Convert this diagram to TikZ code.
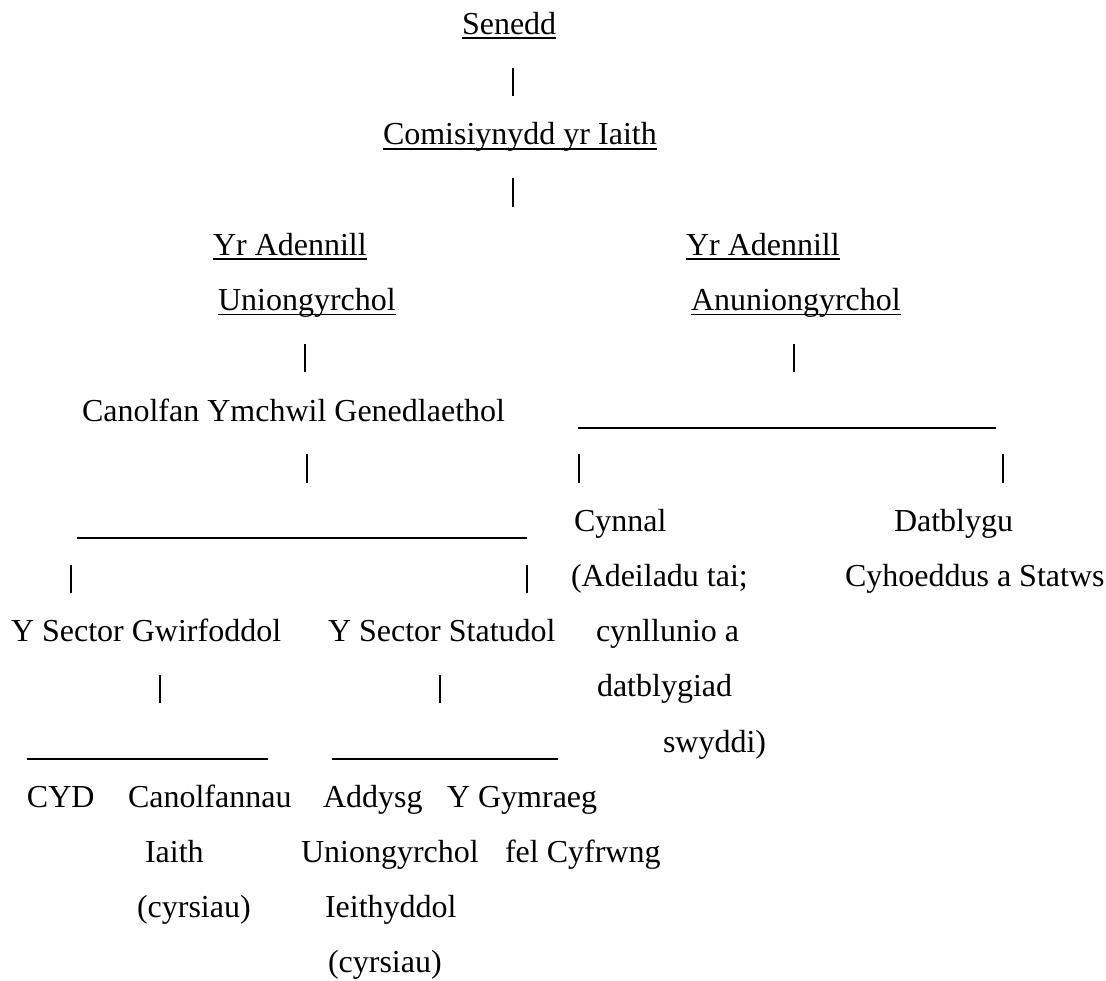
\documentclass[tikz,border=0pt]{standalone}
\usepackage{fontspec}
\setmainfont{Liberation Serif}
\begin{document}
\begin{tikzpicture}[x=0.375pt,y=-0.375pt,
  txt/.style={inner sep=0pt,outer sep=0pt,anchor=base west,font=\fontsize{12}{14}\selectfont},
  bar/.style={line width=0.45pt},
  rule/.style={line width=0.7pt},
  ulline/.style={line width=0.7pt}]
\useasboundingbox (0,0) rectangle (1106,981);
% text nodes
\node[txt] (sen) at (462,34.3) {Senedd};
\node[txt] (com) at (383,144.6) {Comisiynydd yr Iaith};
\node[txt] (yrl) at (213,255) {Yr Adennill};
\node[txt] (yrr) at (686,255) {Yr Adennill};
\node[txt] (unl) at (218,310.5) {Uniongyrchol};
\node[txt] (anr) at (691,310.5) {Anuniongyrchol};
\node[txt] (can) at (82,421.5) {Canolfan Ymchwil Genedlaethol};
\node[txt] (cyn) at (574,531.5) {Cynnal};
\node[txt] (dat) at (894,531.5) {Datblygu};
\node[txt] (ade) at (571,586.5) {(Adeiladu tai;};
\node[txt] (cyh) at (845,586.5) {Cyhoeddus a Statws};
\node[txt] (gwi) at (11,641.5) {Y Sector Gwirfoddol};
\node[txt] (sta) at (328,641.5) {Y Sector Statudol};
\node[txt] (cyl) at (596,641.5) {cynllunio a};
\node[txt] (dty) at (597,696.8) {datblygiad};
\node[txt] (swy) at (663,752) {swyddi)};
\node[txt] (cyd) at (27,807) {CYD};
\node[txt] (cnf) at (128,807) {Canolfannau};
\node[txt] (add) at (323,807) {Addysg};
\node[txt] (gym) at (447,807) {Y Gymraeg};
\node[txt] (iai) at (145,862.5) {Iaith};
\node[txt] (uni) at (301,862.5) {Uniongyrchol};
\node[txt] (fel) at (505,862.5) {fel Cyfrwng};
\node[txt] (cy1) at (137,917.5) {(cyrsiau)};
\node[txt] (iei) at (325,917.5) {Ieithyddol};
\node[txt] (cy2) at (328,972.5) {(cyrsiau)};
% underlines of headings
\foreach \n in {sen,com,yrl,yrr,unl,anr}
  \draw[ulline] ([yshift=-1.5pt]\n.base west) -- ([yshift=-1.5pt]\n.base east);
% vertical bars
\foreach \nm/\x/\b in {p1/513/89.2, p2/513/199.6, p3/305/365.2, p4/794/365.2,
    p5/307/475.6, p6/579/475.6, p7/1003/475.6, p8/71/586, p9/527/586,
    p10/160/696.4, p11/440/696.4} {
  \coordinate (\nm t) at (\x,\b-21.5);
  \coordinate (\nm b) at (\x,\b+7);
  \draw[bar] (\nm t) -- (\nm b);
}
% horizontal rules
\foreach \nm/\xa/\xb/\y in {h1/578/996/428, h2/77/527/538, h3/27/268/758.6, h4/332/558/758.6} {
  \coordinate (\nm l) at (\xa,\y);
  \coordinate (\nm r) at (\xb,\y);
  \draw[rule] (\nm l) -- (\nm r);
}
\end{tikzpicture}
\end{document}
